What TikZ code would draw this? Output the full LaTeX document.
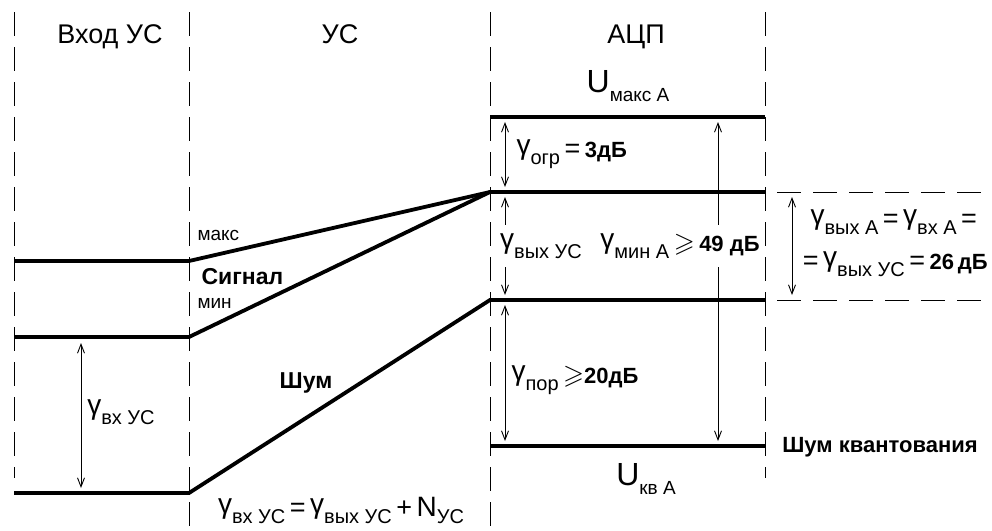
\documentclass[tikz,border=0pt]{standalone}
\usepackage{amssymb}
\usepackage{fontspec}
\setmainfont{Liberation Sans}
\usetikzlibrary{arrows.meta}

\newcommand{\fsz}[1]{\fontsize{#1}{#1}\selectfont}
\newcommand{\gm}{\raisebox{3pt}{\fsz{28}γ}}
\newcommand{\ix}[1]{\raisebox{-7pt}{\fsz{20}#1}}
\newcommand{\op}[1]{{\fsz{27}\,#1\,}}
\newcommand{\db}[1]{{\fsz{22}\bfseries #1}}

\begin{document}
\begin{tikzpicture}[x=1pt,y=-1pt,
    level/.style={line width=3.8pt},
    border/.style={line width=1pt,dash pattern=on 24pt off 11pt},
    span/.style={{Straight Barb[length=9pt,width=7pt]}-{Straight Barb[length=9pt,width=7pt]},line width=0.9pt},
    bar/.style={fill=white,inner xsep=1pt,inner ysep=9pt},
    head/.style={anchor=base,font=\fsz{27}},
  ]
  \useasboundingbox (0,0) rectangle (992,530);

  % column borders
  \foreach \x/\y in {14/478,189/530,490/530,765/478}
    \draw[border] (\x,12) -- (\x,\y);

  % levels
  \coordinate (smaxL) at (14,261);
  \coordinate (smaxR) at (189,261);
  \coordinate (sminL) at (14,337);
  \coordinate (sminR) at (189,337);
  \coordinate (nL) at (14,493);
  \coordinate (nR) at (189,493);
  \coordinate (aTopL) at (490,117);
  \coordinate (aTopR) at (765,117);
  \coordinate (aMaxL) at (490,192);
  \coordinate (aMaxR) at (765,192);
  \coordinate (aMinL) at (490,300);
  \coordinate (aMinR) at (765,300);
  \coordinate (aKvL) at (490,446);
  \coordinate (aKvR) at (765,446);

  \draw[level] (smaxL) -- (smaxR) -- (aMaxL) -- (aMaxR);
  \draw[level] (sminL) -- (sminR) -- (aMaxL);
  \draw[level] (nL) -- (nR) -- (aMinL) -- (aMinR);
  \draw[level] (aTopL) -- (aTopR);
  \draw[level] (aKvL) -- (aKvR);
  \draw[border,dash pattern=on 24pt off 12pt] (777,192) -- (992,192);
  \draw[border,dash pattern=on 24pt off 12pt] (777,300) -- (992,300);

  % ranges
  \coordinate (vxT) at (81,343);
  \coordinate (vxB) at (81,488);
  \coordinate (ogrT) at (505,122);
  \coordinate (ogrB) at (505,187);
  \coordinate (usT) at (505,197);
  \coordinate (usB) at (505,295);
  \coordinate (minT) at (718,122);
  \coordinate (minB) at (718,441);
  \coordinate (porT) at (505,305);
  \coordinate (porB) at (505,441);
  \coordinate (outT) at (792,197);
  \coordinate (outB) at (792,295);
  \draw[span] (vxT) -- (vxB);
  \draw[span] (ogrT) -- (ogrB);
  \draw[span] (usT) -- (usB);
  \draw[span] (minT) -- (minB);
  \draw[span] (porT) -- (porB);
  \draw[span] (outT) -- (outB);

  % headings
  \node[head] (hIn) at (110,43) {Вход УС};
  \node[head] (hUs) at (340,43) {УС};
  \node[head] (hAdc) at (636,43) {АЦП};

  % labels
  \node (umax) at (628,86) {\fsz{32}U\raisebox{-9pt}{\fsz{19}макс A}};
  \node (ukv) at (646,479) {\fsz{32}U\raisebox{-9pt}{\fsz{19}кв A}};
  \node[anchor=west] (ogr) at (513,154) {\gm\ix{огр}\op{=}\db{3дБ}};
  \node[bar] (vyxus) at (541,246) {\gm\ix{вых УС}};
  \node[bar] (minA) at (680,246) {\gm\ix{мин A}\op{$\geqslant$}\db{49 дБ}};
  \node[anchor=west] (por) at (508,380) {\gm\ix{пор}{\fsz{27}\,$\geqslant$}\db{20дБ}};
  \node (outA) at (896,222) {\gm\ix{вых A}\op{=}\gm\ix{вх A}\op{=}};
  \node (outB) at (893,264) {\op{=}\gm\ix{вых УС}\op{=}\db{26\,дБ}};
  \node (kvant) at (880,447) {\fsz{22}\bfseries Шум квантования};
  \node[anchor=west] (maks) at (194,235) {\fsz{19}макс};
  \node[anchor=west] (sig) at (198,277) {\fsz{23}\bfseries Сигнал};
  \node[anchor=west] (min) at (194,303) {\fsz{19}мин};
  \node (shum) at (306,383) {\fsz{23}\bfseries Шум};
  \node (vxus) at (121,412) {\gm\ix{вх УС}};
  \node[anchor=base] (nus) at (341,516) {\gm\ix{вх УС}\op{=}\gm\ix{вых УС}\op{+}{\fsz{28}N}\ix{УС}};
\end{tikzpicture}
\end{document}
